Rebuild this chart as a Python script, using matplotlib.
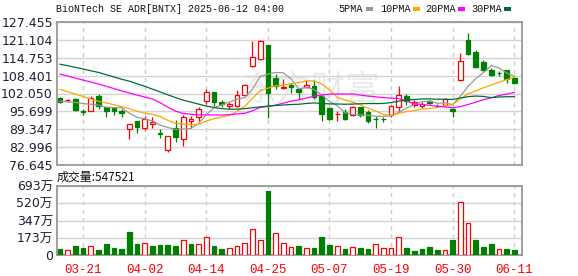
import numpy as np
import matplotlib
matplotlib.use("Agg")
import matplotlib.pyplot as plt
from matplotlib.patches import Rectangle

plt.rcParams['font.family'] = ['DejaVu Sans', 'Noto Sans CJK SC']

# ---- data (prices in USD, volume in 万 shares) ----
dates = ['03-18', '03-19', '03-20', '03-21', '03-24', '03-25', '03-26', '03-27', '03-28', '03-31',
         '04-01', '04-02', '04-03', '04-04', '04-07', '04-08', '04-09', '04-10', '04-11', '04-14',
         '04-15', '04-16', '04-17', '04-21', '04-22', '04-23', '04-24', '04-25', '04-28', '04-29',
         '04-30', '05-01', '05-02', '05-05', '05-06', '05-07', '05-08', '05-09', '05-12', '05-13',
         '05-14', '05-15', '05-16', '05-19', '05-20', '05-21', '05-22', '05-23', '05-27', '05-28',
         '05-29', '05-30', '06-02', '06-03', '06-04', '06-05', '06-06', '06-09', '06-10', '06-11']

opens = [100.4, 99.6, 100.0, 95.7, 95.9, 101.1, 97.1, 96.8, 95.9, 89.35,
         92.3, 89.7, 91.3, 88.1, 82.0, 89.9, 85.8, 92.3, 93.8, 99.4,
         102.5, 99.1, 97.8, 97.6, 101.6, 111.7, 114.4, 119.1, 107.7, 103.9,
         105.0, 103.5, 104.3, 104.6, 101.1, 96.8, 94.7, 95.35, 94.4, 97.1,
         95.35, 93.1, 93.1, 94.4, 97.1, 101.1, 97.9, 97.6, 99.3, 97.7,
         97.9, 96.5, 106.7, 121.1, 116.6, 113.1, 110.5, 109.3, 110.3, 107.45]
highs = [100.8, 100.1, 100.4, 96.4, 101.1, 101.8, 97.2, 97.1, 96.4, 91.4,
         92.3, 94.15, 93.9, 89.45, 87.0, 92.6, 94.4, 94.15, 97.1, 103.6,
         102.6, 99.7, 99.2, 103.2, 105.3, 120.6, 120.9, 119.1, 109.1, 107.2,
         105.6, 103.5, 106.7, 107.0, 101.1, 97.3, 95.9, 96.4, 97.6, 97.3,
         96.2, 94.0, 93.8, 97.9, 104.6, 102.05, 99.7, 99.1, 99.7, 98.2,
         100.6, 97.0, 116.4, 123.4, 117.3, 113.8, 111.1, 110.0, 110.4, 108.4]
lows = [98.6, 99.0, 95.9, 94.6, 95.9, 96.6, 93.8, 94.5, 93.8, 85.8,
        87.9, 89.1, 89.9, 86.4, 81.2, 84.8, 83.6, 89.9, 92.4, 98.5,
        97.6, 97.1, 96.4, 97.1, 101.35, 111.4, 114.05, 93.4, 103.6, 103.5,
        102.3, 100.15, 104.0, 100.0, 92.4, 92.6, 92.3, 92.6, 94.15, 93.8,
        91.5, 89.9, 92.0, 93.8, 95.35, 97.9, 97.1, 96.8, 98.5, 97.1,
        97.7, 93.8, 106.4, 115.7, 111.2, 110.0, 108.3, 108.4, 105.8, 105.3]
closes = [99.1, 99.8, 96.2, 95.5, 100.6, 97.6, 95.9, 95.7, 95.2, 91.1,
          90.3, 93.1, 92.0, 87.8, 87.0, 86.7, 93.8, 93.2, 96.4, 102.5,
          99.2, 98.5, 98.5, 101.6, 105.0, 114.8, 120.6, 102.3, 104.7, 104.4,
          104.4, 102.6, 105.0, 100.9, 94.8, 93.0, 94.95, 93.0, 97.1, 94.4,
          92.4, 93.0, 93.0, 97.7, 101.45, 99.3, 98.9, 98.5, 98.7, 97.5,
          100.0, 95.9, 113.45, 116.0, 111.4, 110.3, 108.6, 109.2, 107.1, 105.7]

ma5 = [99.3, 99.1, 98.9, 98.5, 98.24, 97.94, 97.16, 97.06, 97.0, 95.1,
       93.64, 93.08, 92.34, 90.86, 90.04, 89.32, 89.46, 89.7, 91.42, 94.52,
       97.02, 97.96, 99.02, 100.06, 100.56, 103.68, 108.1, 108.86, 109.48, 109.36,
       107.28, 103.68, 104.22, 103.46, 101.54, 99.26, 97.73, 95.33, 94.57, 94.49,
       94.37, 93.98, 93.98, 94.1, 95.51, 96.89, 98.07, 99.17, 99.37, 98.58,
       98.72, 98.12, 101.11, 104.57, 107.35, 109.41, 111.95, 111.1, 109.32, 108.18]
ma10 = [103.5, 102.7, 101.8, 101.0, 100.1, 99.3, 98.7, 98.1, 97.4, 96.67,
        95.79, 95.12, 94.70, 93.93, 92.57, 91.48, 91.27, 91.02, 91.14, 92.28,
        93.17, 93.71, 94.36, 95.74, 97.54, 100.35, 103.03, 103.94, 104.77, 104.96,
        105.48, 105.89, 106.54, 106.47, 105.45, 103.27, 100.71, 99.78, 99.02, 98.02,
        96.82, 95.86, 94.66, 94.34, 95.0, 95.63, 96.03, 96.58, 96.74, 97.05,
        97.81, 98.10, 100.14, 101.97, 102.97, 104.07, 105.04, 106.11, 106.95, 107.77]
ma20 = [108.9, 108.2, 107.5, 106.8, 106.1, 105.4, 104.6, 103.8, 103.0, 102.2,
        101.5, 100.8, 100.1, 98.8, 97.2, 95.8, 95.0, 94.7, 94.5, 94.48,
        94.48, 94.42, 94.53, 94.84, 95.06, 95.92, 97.15, 97.48, 97.96, 98.62,
        99.33, 99.80, 100.45, 101.11, 101.50, 101.81, 101.87, 101.86, 101.89, 101.49,
        101.15, 100.87, 100.60, 100.40, 100.23, 99.45, 98.37, 98.18, 97.88, 97.53,
        97.31, 96.98, 97.40, 98.15, 98.98, 99.85, 100.53, 101.34, 101.84, 102.41]
ma30 = [112.4, 111.9, 111.3, 110.7, 110.1, 109.5, 108.7, 107.9, 107.1, 106.4,
        105.5, 104.6, 103.6, 102.6, 101.6, 100.6, 99.7, 99.0, 98.3, 97.6,
        97.1, 96.7, 96.5, 96.5, 96.7, 97.0, 97.3, 97.6, 97.8, 97.97,
        98.15, 98.24, 98.53, 98.71, 98.52, 98.37, 98.34, 98.25, 98.31, 98.42,
        98.49, 98.49, 98.52, 98.85, 99.33, 99.75, 99.92, 100.10, 100.17, 100.01,
        100.03, 99.95, 100.45, 100.93, 101.14, 100.99, 100.59, 100.82, 100.90, 100.94]

volumes = [63, 50, 93, 76, 90, 53, 113, 73, 63, 233,
           113, 123, 93, 103, 103, 93, 150, 113, 113, 180,
           93, 63, 70, 90, 123, 260, 150, 643, 223, 123,
           83, 93, 70, 73, 183, 103, 90, 63, 83, 73,
           63, 110, 70, 70, 180, 73, 43, 63, 83, 53,
           50, 153, 530, 320, 153, 83, 113, 63, 63, 54.75]
# 1 = red (up vs previous close), 0 = green
vol_up = [0, 1, 0, 0, 1, 0, 0, 0, 0, 0,
          0, 1, 0, 0, 0, 0, 1, 0, 1, 1,
          0, 0, 1, 1, 1, 1, 1, 0, 1, 1,
          1, 0, 1, 0, 0, 0, 1, 0, 1, 0,
          0, 1, 1, 1, 1, 0, 0, 0, 0, 0,
          1, 0, 1, 1, 0, 0, 0, 1, 0, 0]

price_ticks = [76.645, 82.996, 89.347, 95.699, 102.050, 108.401, 114.753, 121.104, 127.455]
vol_ticks = [0, 173.25, 346.5, 519.75, 693]
vol_tick_labels = ['0', '173万', '347万', '520万', '693万']
label_idx = [3, 11, 19, 27, 35, 43, 51, 59]

RED = '#ff0000'
GREEN = '#008000'
GRID = '#d4d4d4'
EDGE = '#999999'
W, H = 578, 276

fig = plt.figure(figsize=(W / 100, H / 100), dpi=100)
fig.patch.set_facecolor('white')


def fx(px):
    return px / W


def fy(py):
    return 1 - py / H


ax1 = fig.add_axes([fx(57), fy(165.3), fx(522.3) - fx(57), fy(21.7) - fy(165.3)])
ax2 = fig.add_axes([fx(57), fy(255.3), fx(522.3) - fx(57), fy(186) - fy(255.3)])

x = np.arange(len(dates))
o = np.array(opens)
c = np.array(closes)
up = c >= o
bottoms = np.minimum(o, c)
heights = np.maximum(np.abs(c - o), 0.15)
cols = [RED if u else GREEN for u in up]

# ===== price panel =====
ax1.vlines(x, lows, highs, colors=cols, linewidth=0.9, zorder=2)
ax1.bar(x, heights, bottom=bottoms, width=0.62,
        facecolor=['white' if u else GREEN for u in up],
        edgecolor=cols, linewidth=0.9, zorder=3)

ax1.plot(x, ma5, color='#999999', lw=0.9, zorder=4)
ax1.plot(x, ma10, color='#ffa500', lw=0.9, zorder=4)
ax1.plot(x, ma20, color='#ff00ff', lw=0.9, zorder=4)
ax1.plot(x, ma30, color='#006b3c', lw=0.9, zorder=4)

# faint watermark
ax1.text(0.545, 0.52, '东方财富', fontsize=25, color='#ebebeb', ha='center', va='center',
         family=['Noto Sans CJK SC'], transform=ax1.transAxes, zorder=0.5)

ax1.set_xlim(-0.39, 60.04)
ax1.set_ylim(price_ticks[0], price_ticks[-1])
ax1.set_yticks(price_ticks)
ax1.set_yticklabels(['%.3f' % t for t in price_ticks])
ax1.set_xticks(label_idx)
ax1.set_xticklabels([])

# ===== volume panel =====
ax2.bar(x, volumes, width=0.62,
        facecolor=['white' if u else GREEN for u in vol_up],
        edgecolor=[RED if u else GREEN for u in vol_up], linewidth=0.9, zorder=3)
ax2.set_xlim(-0.39, 60.04)
ax2.set_ylim(0, 693)
ax2.set_yticks(vol_ticks)
ax2.set_yticklabels(vol_tick_labels)
ax2.set_xticks(label_idx)
ax2.set_xticklabels([dates[i] for i in label_idx], family='Liberation Mono',
                    fontsize=7.6, color=RED)

for ax in (ax1, ax2):
    ax.yaxis.grid(True, color=GRID, lw=1, ls='-')
    ax.xaxis.grid(True, color='#cccccc', lw=1, ls=(0, (3, 3)))
    ax.set_axisbelow(True)
    ax.tick_params(length=0, labelsize=9, colors='#1e1e38', pad=3)
    ax.tick_params(axis='x', pad=6, colors=RED)
    for s in ax.spines.values():
        s.set_color(EDGE)
        s.set_linewidth(1.3)

# ===== header texts =====
mono = 'Liberation Mono'
fig.text(fx(56), fy(8.5), 'BioNTech SE ADR[BNTX] 2025-06-12 04:00', family=mono,
         fontsize=7.2, va='center', ha='left', color='#111111')

legend = [('5PMA', '#999999', 338.7), ('10PMA', '#ffa500', 380),
          ('20PMA', '#ff00ff', 425.7), ('30PMA', '#006b3c', 471.3)]
for name, col, px in legend:
    fig.text(fx(px), fy(8.5), name, family=mono, fontsize=7.3,
             va='center', ha='left', color='#111111')
    wtxt = len(name) * 5.95
    fig.add_artist(Rectangle((fx(px + wtxt + 3), fy(10.5)), 7 / W, 3 / H,
                             transform=fig.transFigure, color=col, lw=0))

fig.text(fx(57), fy(177.5), '成交量:547521', family=['Noto Sans CJK SC'],
         fontsize=8.6, va='center', ha='left', color='#111111')

fig.savefig('out.png', dpi=100, facecolor='white')
